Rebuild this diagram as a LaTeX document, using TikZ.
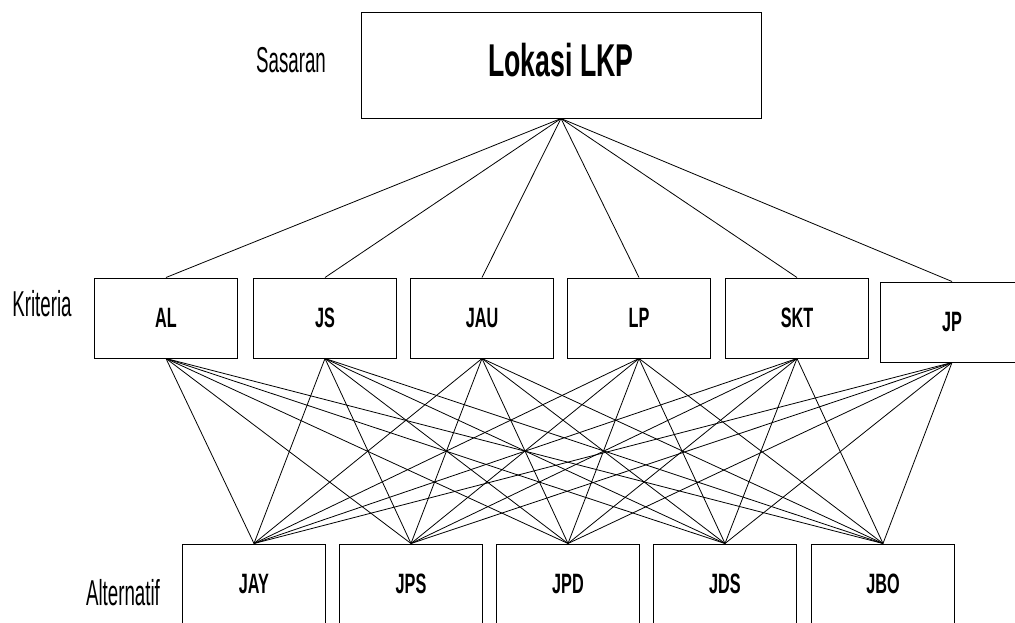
\documentclass[tikz,border=0pt]{standalone}
\usepackage{fontspec}
\setmainfont{Liberation Sans}[FakeStretch=0.52, BoldFeatures={FakeStretch=0.58}]

\begin{document}
\begin{tikzpicture}[x=0.75pt, y=-0.75pt,
		kotak/.style={draw, line width=0.75pt, minimum width=107pt, minimum height=60pt, inner sep=0pt, font=\bfseries\fontsize{21}{24}\selectfont},
		tingkat/.style={font=\fontsize{27}{30}\selectfont},
		garis/.style={line width=0.6pt}]

		% Frame of the picture
		\useasboundingbox (0,0) rectangle (1015,622);
		\clip (0,0) rectangle (1015,622);

		% Goal
		\node[kotak, minimum width=300pt, minimum height=79.5pt, text height=24.75pt, text depth=7.5pt, font=\bfseries\fontsize{34.5}{40}\selectfont] (lokasi) at (561,65) {Lokasi LKP};

		% Criteria
		\node[kotak] (al) at (166,318) {AL};
		\node[kotak] (js) at (325,318) {JS};
		\node[kotak] (jau) at (482,318) {JAU};
		\node[kotak] (lp) at (639,318) {LP};
		\node[kotak] (skt) at (797,318) {SKT};
		\node[kotak] (jp) at (952,322) {JP};

		% Alternatives
		\node[kotak] (jay) at (254,584) {JAY};
		\node[kotak] (jps) at (411,584) {JPS};
		\node[kotak] (jpd) at (568,584) {JPD};
		\node[kotak] (jds) at (725,584) {JDS};
		\node[kotak] (jbo) at (883,584) {JBO};

		% Level labels
		\node[tingkat] (sasaran) at (291,60) {Sasaran};
		\node[tingkat] (kriteria) at (42,304) {Kriteria};
		\node[tingkat] (alternatif) at (123,593) {Alternatif};

		% Goal to criteria
		\foreach \k in {al,js,jau,lp,skt,jp}
			\draw[garis] (lokasi.south) -- (\k.north);

		% Criteria to alternatives
		\foreach \k in {al,js,jau,lp,skt,jp}
			\foreach \a in {jay,jps,jpd,jds,jbo}
				\draw[garis] (\k.south) -- (\a.north);

	\end{tikzpicture}
\end{document}
